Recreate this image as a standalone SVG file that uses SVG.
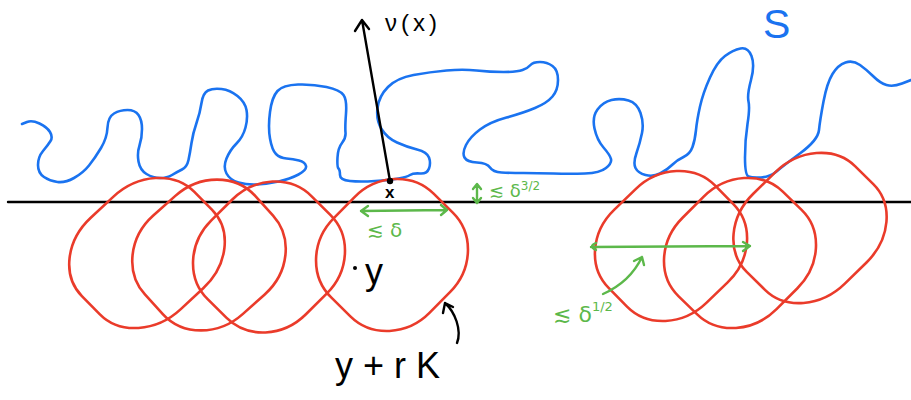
<svg xmlns="http://www.w3.org/2000/svg" xmlns:xlink="http://www.w3.org/1999/xlink" width="911" height="400" viewBox="0 0 911 400">
<style>
.blue{fill:none;stroke:#1a73f0;stroke-width:2.6;stroke-linecap:round;stroke-linejoin:round}
.red{fill:none;stroke:#ea3b2a;stroke-width:2.6;stroke-linejoin:round;vector-effect:non-scaling-stroke}
.blk{fill:none;stroke:#000;stroke-width:2.4;stroke-linecap:round;stroke-linejoin:round}
.grn{fill:none;stroke:#5cb84a;stroke-width:2.4;stroke-linecap:round;stroke-linejoin:round}
.t{font-family:"Liberation Sans","DejaVu Sans",sans-serif}
.tg{fill:#5cb84a;font-family:"DejaVu Sans","Liberation Sans",sans-serif}
</style>
<defs>
<path id="loop" class="red" d="M-0.522,-0.783 C-0.234,-1.071 0.234,-1.071 0.522,-0.783 L0.783,-0.522 C1.071,-0.234 1.071,0.234 0.783,0.522 L0.522,0.783 C0.234,1.071 -0.234,1.071 -0.522,0.783 L-0.783,0.522 C-1.071,0.234 -1.071,-0.234 -0.783,-0.522 Z"/>
</defs>
<rect width="911" height="400" fill="#fff"/>
<g id="boundary-S">
<path class="blue" d="M22,124 L27,122 Q32,120 39.5,123.5 Q47,127 50,132 Q53,137 50.5,141 Q48,145 43,151 Q38,157 38,165 Q38,173 44,177 Q50,181 57.5,182 Q65,183 74,178 Q83,173 89,165.5 Q95,158 101,148 Q107,138 107.5,127.5 Q108,117 114,113.5 Q120,110 127.5,110 Q135,110 138.5,115 Q142,120 142,129 Q142,138 139.5,145.5 Q137,153 138.5,161.5 Q140,170 146.5,174 Q153,178 160,178 Q167,178 172,175 Q177,172 182,169.5 Q187,167 188.5,160 Q190,153 191.5,143 Q193,133 196.5,123 Q200,113 201.5,103 Q203,93 208,90.5 Q213,88 221.5,89 Q230,90 237.5,96 Q245,102 246.5,110 Q248,118 245.5,127.5 Q243,137 236.5,143.5 Q230,150 226.5,158.5 Q223,167 226.5,173.5 Q230,180 238.5,182.5 Q247,185 257,184.5 Q267,184 278.5,181.5 Q290,179 298.5,174.5 Q307,170 306,166 Q305,162 299,160.5 Q293,159 286.5,158.5 Q280,158 276,154 Q272,150 270,138.5 Q268,127 270,112 Q272,97 277.5,91 Q283,85 298,84.5 Q313,84 326.5,87 Q340,90 343.5,95 Q347,100 346,113.5 Q345,127 345.5,132.5 Q346,138 342,143 Q338,148 337.5,157.5 Q337,167 338.5,168.5 Q340,170 340,175 Q340,180 350,181 Q360,182 375,181 Q390,180 398.5,178.5 Q407,177 410,175 Q413,173 420,173.5 Q427,174 429,168.5 Q431,163 429,157.5 Q427,152 417,149.5 Q407,147 397,142.5 Q387,138 381.5,129 Q376,120 377.5,108 Q379,96 388,87 Q397,78 413.5,75 Q430,72 446.5,70.5 Q463,69 476.5,70.5 Q490,72 503.5,72 Q517,72 522.5,70 Q528,68 530.5,65 Q533,62 540,62 Q547,62 552.5,66 Q558,70 558,80 Q558,90 552.5,96.5 Q547,103 535,108 Q523,113 506.5,117.5 Q490,122 480,129.5 Q470,137 466,145 Q462,153 464.5,157.5 Q467,162 477,162.5 Q487,163 490,167.5 Q493,172 501.5,172.5 Q510,173 523.5,173 Q537,173 553.5,173.5 Q570,174 585,173.5 Q600,173 606,168 Q612,163 611,159 Q610,155 603.5,147.5 Q597,140 594.5,128.5 Q592,117 597.5,109.5 Q603,102 611.5,100 Q620,98 628.5,100.5 Q637,103 640.5,113 Q644,123 642,133 Q640,143 636.5,153 Q633,163 635.5,168 Q638,173 645.5,175 Q653,177 660,173.5 Q667,170 672,165 Q677,160 683.5,157 Q690,154 692.5,147 Q695,140 696,130 Q697,120 700,106.5 Q703,93 710,77.5 Q717,62 725,56 Q733,50 740.5,48.5 Q748,47 751.5,56 Q755,65 751,80 Q747,95 748.5,101.5 Q750,108 747.5,124 Q745,140 745,157.5 Q745,175 748.5,176.5 Q752,178 761,177.5 Q770,177 776.5,171.5 Q783,166 800.5,153 Q818,140 819,130 Q820,120 823.5,101.5 Q827,83 832.5,74 Q838,65 845.5,62.5 Q853,60 860,65 Q867,70 873.5,76.5 Q880,83 886.5,85 Q893,87 902,83.5 L911,80"/>
<text class="t" x="763" y="38" font-size="41" fill="#1a73f0">S</text>
</g>
<g id="hyperplane">
<path class="blk" d="M8,202 L911,202"/>
</g>
<g id="loops">
<use id="loop1" xlink:href="#loop" href="#loop" transform="matrix(77.5 -5 -8.5 75 147 253)"/>
<use id="loop2" xlink:href="#loop" href="#loop" transform="matrix(76.5 0 -8 75.5 209 255)"/>
<use id="loop3" xlink:href="#loop" href="#loop" transform="matrix(76 -3.5 -3.5 75.5 269 257)"/>
<use id="loop4" xlink:href="#loop" href="#loop" transform="matrix(76 -3.5 -2.5 76 392 255)"/>
<use id="loop5" xlink:href="#loop" href="#loop" transform="matrix(76 -3.5 -5.5 75 671 246)"/>
<use id="loop6" xlink:href="#loop" href="#loop" transform="matrix(76 -5 -4 75 740 253)"/>
<use id="loop7" xlink:href="#loop" href="#loop" transform="matrix(76.5 -6 -6.5 75 810 228)"/>
</g>
<g id="normal">
<path class="blk" d="M390,181 L362,20 M355,31 L362,20 L369,29"/>
<circle cx="390" cy="181" r="3.2" fill="#000"/>
<text class="t" x="385" y="31" font-size="24" letter-spacing="4">ν(x)</text>
<text class="t" x="385" y="198" font-size="17" font-weight="bold">x</text>
</g>
<g id="point-y">
<circle cx="355" cy="268" r="2" fill="#000"/>
<text class="t" x="365" y="284" font-size="36">y</text>
</g>
<g id="label-yrK">
<path class="blk" d="M457,343 C462,330 455,312 445,303 M443,313 L445,303 L453,307"/>
<text class="t" x="335" y="378" font-size="36">y + r K</text>
</g>
<g id="green-annotations">
<path class="grn" d="M361,211 L447,210 M368,206 L361,211 L368,216 M441,205 L447,210 L441,215"/>
<text class="tg" x="367" y="237" font-size="20">≲ δ</text>
<path class="grn" d="M477,185 L477,202 M473,189 L477,184 L481,189 M473,198 L477,203 L481,198"/>
<text class="tg" x="489" y="197" font-size="18">≲ δ<tspan dy="-7" font-size="12">3/2</tspan></text>
<path class="grn" d="M591,247 L750,246 M596,243 Q588,246 596,250 M743,242 L750,246 L743,251"/>
<path class="grn" d="M603,294 Q630,282 642,257 M634,261 L642,257 L644,265"/>
<text class="tg" x="553" y="322" font-size="22">≲ δ<tspan dy="-11" font-size="13">1/2</tspan></text>
</g>
</svg>
